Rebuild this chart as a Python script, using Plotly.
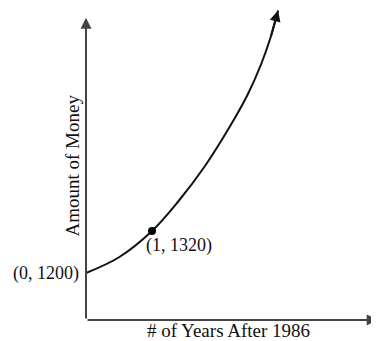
import plotly.graph_objects as go

# Curve (years after 1986, amount of money)
years = [0, 0.5, 1.0, 1.4, 1.8, 2.2, 2.45, 2.65, 2.8, 2.91]
money = [1200, 1245, 1320, 1405, 1505, 1625, 1710, 1795, 1875, 1950]

# Labelled points
pt_x = [0, 1]
pt_y = [1200, 1320]
pt_labels = ["(0, 1200)", "(1, 1320)"]

x_title = "# of Years After 1986"
y_title = "Amount of Money"

# axis extents (data units)
axis_base = 1066
x_axis_end = 4.42
y_axis_end = 1929

FONT = dict(family="Liberation Serif, Times New Roman, serif", size=18, color="#111")
TFONT = dict(family="Liberation Serif, Times New Roman, serif", size=19, color="#111")

W, H = 371, 333  # page body has an 8px margin
OFF = 8

fig = go.Figure()

# curve
fig.add_trace(go.Scatter(x=years, y=money, mode="lines",
                         line=dict(color="#111", width=2, shape="spline"),
                         hoverinfo="skip", showlegend=False))
# marked point
fig.add_trace(go.Scatter(x=[pt_x[1]], y=[pt_y[1]], mode="markers",
                         marker=dict(color="#000", size=8, symbol="circle"),
                         hoverinfo="skip", showlegend=False))

ann = []
# arrow at end of curve
ann.append(dict(x=years[-1], y=money[-1], ax=years[-2], ay=money[-2],
                xref="x", yref="y", axref="x", ayref="y", text="",
                showarrow=True, arrowhead=2, arrowsize=1.1, arrowwidth=2,
                arrowcolor="#111", standoff=0))
# y axis
ann.append(dict(x=0, y=y_axis_end, ax=0, ay=axis_base,
                xref="x", yref="y", axref="x", ayref="y", text="",
                showarrow=True, arrowhead=2, arrowsize=1.1, arrowwidth=2,
                arrowcolor="#444", standoff=0))
# x axis
ann.append(dict(x=x_axis_end, y=axis_base, ax=0, ay=axis_base,
                xref="x", yref="y", axref="x", ayref="y", text="",
                showarrow=True, arrowhead=2, arrowsize=1.1, arrowwidth=2,
                arrowcolor="#444", standoff=0))
# point labels
ann.append(dict(x=pt_x[0], y=pt_y[0], xref="x", yref="y", text=pt_labels[0],
                showarrow=False, xanchor="right", yanchor="middle",
                xshift=-5, font=FONT))
ann.append(dict(x=pt_x[1], y=pt_y[1], xref="x", yref="y", text=pt_labels[1],
                showarrow=False, xanchor="left", yanchor="top",
                xshift=-8, yshift=-2, font=FONT))
# titles
ann.append(dict(x=(71.5 - OFF) / W, y=1 - (166 - OFF) / H, xref="paper", yref="paper",
                text=y_title, textangle=-90, showarrow=False,
                xanchor="center", yanchor="middle", font=TFONT))
ann.append(dict(x=(228 - OFF) / W, y=1 - (330 - OFF) / H, xref="paper", yref="paper",
                text=x_title, showarrow=False,
                xanchor="center", yanchor="middle", font=TFONT))

fig.update_layout(
    width=W, height=H,
    margin=dict(l=0, r=0, t=0, b=0),
    paper_bgcolor="white", plot_bgcolor="white",
    xaxis=dict(range=[(OFF - 86) / 66, 293 / 66], visible=False, fixedrange=True),
    yaxis=dict(range=[1200 - 68 / 0.35, 1200 + (273 - OFF) / 0.35], visible=False, fixedrange=True),
    annotations=ann,
    showlegend=False,
)

fig.write_html("out.html", config={"displayModeBar": False})
